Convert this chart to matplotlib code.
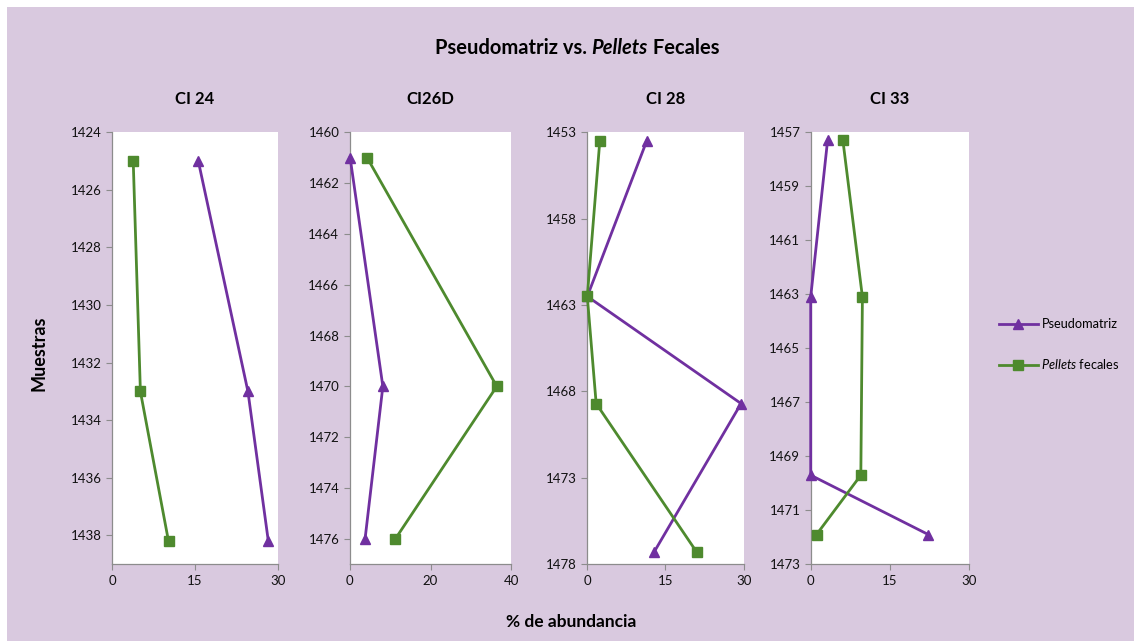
import matplotlib.pyplot as plt
from matplotlib.lines import Line2D

plt.rcParams["font.family"] = ["Lato", "DejaVu Sans"]
plt.rcParams["mathtext.fontset"] = "custom"
plt.rcParams["mathtext.rm"] = "Lato"
plt.rcParams["mathtext.it"] = "Lato:italic"

# depth of each sample and % abundance per core
ci24_depth = [1425, 1433, 1438.2]
ci24_pseudo = [15.6, 24.6, 28.3]
ci24_pellets = [3.8, 5.1, 10.2]

ci26d_depth = [1461, 1470, 1476]
ci26d_pseudo = [0.1, 8.2, 3.8]
ci26d_pellets = [4.3, 36.4, 11.3]

ci28_depth = [1453.5, 1462.5, 1468.7, 1477.3]
ci28_pseudo = [11.4, 0.0, 29.5, 12.8]
ci28_pellets = [2.4, 0.0, 1.7, 21.0]

ci33_depth = [1457.3, 1463.1, 1469.7, 1471.9]
ci33_pseudo = [3.2, 0.0, 0.0, 22.3]
ci33_pellets = [6.1, 9.8, 9.5, 1.1]

titles = ["CI 24", "CI26D", "CI 28", "CI 33"]
depths = [ci24_depth, ci26d_depth, ci28_depth, ci33_depth]
pseudo = [ci24_pseudo, ci26d_pseudo, ci28_pseudo, ci33_pseudo]
pellets = [ci24_pellets, ci26d_pellets, ci28_pellets, ci33_pellets]

ylims = [(1424, 1439), (1460, 1477), (1453, 1478), (1457, 1473)]
ysteps = [2, 2, 5, 2]
xmaxes = [30, 40, 30, 30]
xsteps = [15, 20, 15, 15]

# axes boxes in figure fractions
boxes = [
    (0.0990, 0.1197, 0.1459, 0.674),
    (0.3084, 0.1197, 0.1425, 0.674),
    (0.5179, 0.1197, 0.1379, 0.674),
    (0.7149, 0.1197, 0.1396, 0.674),
]

purple = "#7030A0"
green = "#4E8A2E"
bg = "#D9C9DF"
spine = "#8C8C8C"

fig = plt.figure(figsize=(11.34, 6.41), dpi=100)
fig.patch.set_facecolor("white")
fig.patches.append(plt.Rectangle((7 / 1134, 0), 1, 1 - 7 / 641,
                                 transform=fig.transFigure,
                                 facecolor=bg, edgecolor="none", zorder=-10))

for i in range(4):
    ax = fig.add_axes(boxes[i])
    ax.set_facecolor("white")
    ax.plot(pseudo[i], depths[i], color=purple, lw=2, marker="^",
            markersize=7, clip_on=False, zorder=3)
    ax.plot(pellets[i], depths[i], color=green, lw=2, marker="s",
            markersize=6.5, clip_on=False, zorder=3)
    lo, hi = ylims[i]
    ax.set_ylim(hi, lo)
    ax.set_yticks(range(lo, hi + 1, ysteps[i]))
    ax.set_xlim(0, xmaxes[i])
    ax.set_xticks(range(0, xmaxes[i] + 1, xsteps[i]))
    for s in ["top", "right"]:
        ax.spines[s].set_visible(False)
    for s in ["left", "bottom"]:
        ax.spines[s].set_color(spine)
        ax.spines[s].set_linewidth(0.9)
    ax.tick_params(colors=spine, labelcolor="#111111", labelsize=9.5,
                   length=4, width=0.8)
    ax.set_title(titles[i], fontsize=12, fontweight="bold", pad=20)

# main title with italic word
parts = [("Pseudomatriz vs. ", "normal"), ("Pellets", "italic"), (" Fecales", "normal")]
texts = [fig.text(0, 0.925, p, fontsize=14.5, fontweight="bold", style=st, va="center")
         for p, st in parts]
fig.canvas.draw()
r = fig.canvas.get_renderer()
widths = [t.get_window_extent(r).width / 1134 for t in texts]
x = 577 / 1134 - sum(widths) / 2
for t, w in zip(texts, widths):
    t.set_x(x)
    x += w

fig.text(39 / 1134, 1 - 353 / 641, "Muestras", rotation=90, fontsize=13,
         fontweight="bold", ha="center", va="center")
fig.text(571 / 1134, 1 - 622 / 641, "% de abundancia", fontsize=12.5,
         fontweight="bold", ha="center", va="center")

handles = [
    Line2D([], [], color=purple, lw=2, marker="^", markersize=7),
    Line2D([], [], color=green, lw=2, marker="s", markersize=6.5),
]
fig.legend(handles, ["Pseudomatriz", "$\\mathit{Pellets}$ fecales"],
           loc="center left", bbox_to_anchor=(0.871, 0.462), frameon=False,
           fontsize=9.2, handlelength=3, handletextpad=0.3, labelspacing=2.1)

fig.savefig("out.png", dpi=100, facecolor=fig.get_facecolor())
